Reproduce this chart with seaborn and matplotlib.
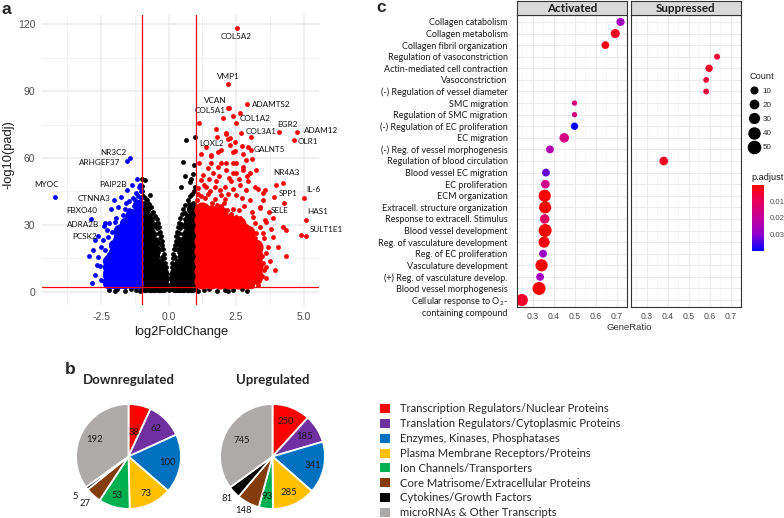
import matplotlib
matplotlib.use("Agg")
import matplotlib.pyplot as plt
import matplotlib.transforms as mtransforms
import numpy as np
import pandas as pd
import seaborn as sns
from matplotlib.colors import LinearSegmentedColormap, Normalize
from matplotlib.cm import ScalarMappable
from matplotlib.lines import Line2D
from matplotlib.patches import Patch

sns.set_style("white")
plt.rcParams["font.family"] = ["Liberation Sans", "DejaVu Sans"]

W, H = 784, 518

##############################
# a. Volcano plot data (log2FoldChange, -log10(padj))
##############################
# dense cores: {log2FC: [-log10 padj, ...]}
ns_core = {
    -0.86: [2, 5.5, 9, 12.5, 16, 19.5, 23, 26.5, 30, 33.5, 37],
    -0.70: [2, 5.5, 9, 12.5, 16, 19.5, 23, 26.5, 30],
    -0.53: [2, 5.5, 9, 12.5, 16, 19.5, 22.5],
    -0.37: [2, 5.5, 9, 12.5],
    -0.22: [2, 5.5, 8.5],
    0.22: [2, 5.5, 8.5],
    0.37: [2, 5.5, 9, 12.5],
    0.53: [2, 5.5, 9, 12.5, 16, 19.5, 22.5],
    0.70: [2, 5.5, 9, 12.5, 16, 19.5, 23, 26.5, 30],
    0.86: [2, 5.5, 9, 12.5, 16, 19.5, 23, 26.5, 30, 33.5, 37],
}
ns_pts = [
    (-0.04, 3), (-0.06, 6), (-0.09, 8), (-0.11, 11), (-0.13, 13), (-0.16, 15), (-0.18, 17),
    (-0.2, 19), (-0.23, 21), (-0.26, 23), (-0.28, 25), (-0.31, 27), (-0.34, 29), (-0.38, 31),
    (-0.43, 32.5), (-0.5, 34), (-0.57, 36), (-0.64, 38), (-0.72, 39.5), (-0.8, 41), (-0.88, 42),
    (-0.95, 43), (-0.98, 45), (-0.12, 4), (-0.15, 8), (-0.2, 5), (-0.17, 11), (-0.22, 12),
    (-0.25, 15.5), (-0.28, 19), (-0.3, 21.5), (-0.33, 24), (-0.37, 26.5), (-0.42, 28.5),
    (-0.47, 30.5), (-0.52, 26), (-0.58, 29.5), (-0.6, 32.5), (-0.68, 34), (-0.78, 37), (-0.9, 40),
    (-0.44, 22), (-0.4, 18), (-0.3, 14), (-0.28, 9), (-0.45, 15), (-0.75, 39.5), (-0.62, 35.5),
    (-0.98, 50.5), (-0.97, 47.5), (-0.86, 50.2), (-0.7, 43.5),
    (0.04, 3), (0.06, 6), (0.09, 8), (0.11, 11), (0.13, 13), (0.16, 15), (0.18, 17),
    (0.2, 19), (0.23, 21), (0.26, 23), (0.28, 25), (0.31, 27), (0.34, 29), (0.37, 31),
    (0.42, 33), (0.48, 35), (0.55, 37), (0.62, 39), (0.7, 41), (0.78, 43), (0.86, 44),
    (0.93, 45), (0.98, 47), (0.12, 4), (0.15, 8), (0.2, 5), (0.17, 11), (0.22, 12),
    (0.25, 15.5), (0.28, 19), (0.3, 21.5), (0.33, 24), (0.37, 26.5), (0.42, 28.5),
    (0.47, 30.5), (0.52, 26), (0.58, 29.5), (0.6, 32.5), (0.68, 34), (0.78, 37), (0.9, 40),
    (0.44, 22), (0.4, 18), (0.3, 14), (0.28, 9), (0.45, 15), (0.75, 39.5), (0.62, 35.5),
    (0.45, 47), (0.6, 52), (0.78, 49.4), (0.83, 50.5), (0.9, 53), (0.53, 58.4), (0.93, 56.9),
    (0.65, 68), (0.96, 69.3),
    (0, 1), (-0.03, 1.5), (0.03, 1.5),
    (-2.2, 0.8), (-1.9, 1.2), (-1.6, 0.6), (-1.4, 1.1), (-1.2, 0.7), (-1.05, 0.5), (-2.0, 0.4),
    (1.1, 0.6), (1.3, 1.0), (1.5, 1.2), (1.8, 0.6), (2.1, 1.0), (2.2, 0.3), (2.4, 0.7),
    (2.7, 1.1), (2.9, 0.5),
]

down_core = {
    -1.15: [4, 7.5, 11, 14.5, 18, 21.5, 25, 28.5, 32, 35.5, 39],
    -1.38: [4, 7.5, 11, 14.5, 18, 21.5, 25, 28.5, 32, 35],
    -1.60: [4, 7.5, 11, 14.5, 18, 21.5, 25, 28.5, 31],
    -1.82: [4, 7.5, 11, 14.5, 18, 21.5, 25, 27.5],
    -2.04: [4, 7.5, 11, 14.5, 18, 21],
    -2.24: [4, 7.5, 11, 14],
}
down_pts = [
    (-1.03, 42), (-1.04, 45), (-1.06, 48), (-1.12, 43), (-1.25, 41), (-1.3, 38.5),
    (-1.45, 36.5), (-1.55, 33.5), (-1.7, 31), (-1.8, 29.5), (-1.95, 27), (-2.0, 23.5),
    (-2.15, 21), (-2.2, 17), (-2.3, 15.5), (-2.35, 9), (-2.38, 5), (-2.32, 3), (-2.12, 2.8),
    (-1.7, 2.6), (-1.3, 2.7), (-1.36, 47.9), (-1.54, 45.7), (-1.75, 42.7), (-2.15, 37),
    (-1.88, 38.2), (-1.69, 34.5), (-2.37, 30.7), (-2.19, 30.7), (-2.0, 31.5), (-2.74, 23.3),
    (-2.8, 18.8), (-2.56, 11.4), (-2.74, 7.6), (-2.37, 18.8), (-2.25, 24.8), (-2.43, 23.3),
    (-2.49, 5.4), (-2.62, 15.8), (-1.59, 39.7), (-1.32, 42), (-1.2, 44.2), (-2.1, 27),
    (-2.5, 20), (-2.65, 12), (-2.95, 16), (-2.85, 4), (-1.6, 37), (-1.95, 33), (-2.3, 27.5),
    (-1.45, 40.5), (-1.1, 47),
]

up_core = {
    1.25: [5, 9.5, 14, 18.5, 23, 27.5, 32, 36.5],
    1.58: [5, 9.5, 14, 18.5, 23, 27.5, 32, 35.5],
    1.91: [5, 9.5, 14, 18.5, 23, 27.5, 32, 35],
    2.24: [5, 9.5, 14, 18.5, 23, 27.5, 31.5],
    2.57: [5, 9.5, 14, 18.5, 23, 27.5, 30.5],
    2.90: [5, 9.5, 14, 18.5, 23, 26.5],
    3.20: [7, 11.5, 16, 20],
}
up_pts = [
    (1.05, 41), (1.08, 44), (1.1, 46.5), (1.2, 43), (1.35, 42), (1.45, 44), (1.6, 40),
    (1.7, 41.5), (1.8, 39), (1.95, 38.5), (2.05, 40), (2.15, 36.5), (2.3, 35), (2.4, 37),
    (2.5, 33.5), (2.65, 33), (2.75, 30), (2.85, 29.5), (3.0, 28), (3.1, 26), (3.2, 24),
    (3.3, 22), (3.4, 19), (3.45, 16), (3.5, 13), (3.55, 10), (3.45, 7), (3.35, 5), (3.3, 3),
    (3.1, 2.8), (3.05, 5), (3.15, 9), (3.3, 12), (3.38, 15), (3.25, 18), (3.1, 20),
    (3.05, 24), (2.95, 26), (2.75, 3), (3.4, 10.5),
    (1.11, 57.6), (1.46, 55.4), (1.64, 53.1), (1.83, 56.1), (1.95, 57.6), (2.14, 54.6),
    (2.38, 57.6), (2.5, 53.1), (2.75, 56.1), (3.0, 53.1), (3.25, 54.6), (1.21, 50.2),
    (1.4, 47.2), (1.77, 49.5), (2.07, 47.2), (2.32, 49.5), (2.63, 47.9), (2.88, 45.7),
    (3.19, 47.2), (3.49, 44.2), (1.95, 43.4), (2.5, 43.4), (3.0, 41.2), (3.37, 38.2),
    (3.56, 32.2), (3.49, 26.3), (3.68, 20.3), (3.62, 11.3), (3.25, 6.9), (2.88, 3.9),
    (1.11, 75.5), (1.74, 73), (2.14, 71), (2.19, 68.5), (2.46, 67.3), (1.58, 61.3),
    (1.83, 62.8), (2.38, 62.8), (2.5, 57.9), (2.85, 59), (3.1, 59.4), (1.56, 57.6),
    (2.14, 57.6), (2.75, 54.6), (2.38, 53.1), (1.27, 52.4), (3.58, 45.7), (3.99, 47.9),
    (3.9, 42.4), (3.49, 41.2), (3.86, 33), (4.36, 27.8), (3.86, 24.8),
    (4.36, 16.1), (3.93, 9.9), (4.91, 25.6), (3.62, 31.5), (3.37, 37.5), (3.12, 33.7),
    (3.25, 26.3), (3.62, 17.3), (3.25, 12.9), (3.37, 6.9),
    (2.38, 78.8), (2.5, 75.8), (2.14, 70.8), (2.26, 69), (2.26, 65.8), (1.95, 63.6),
    (2.47, 63.3), (2.73, 65.4), (2.94, 64.8), (1.58, 60.9), (2.75, 61.8), (3.04, 69.3),
    (2.25, 82.6), (1.3, 48), (1.55, 45), (1.7, 47), (1.9, 45.5), (2.2, 44), (2.4, 46),
    (2.7, 42), (2.8, 38.5), (3.1, 36), (3.2, 31), (3.4, 29), (3.55, 24), (2.6, 36.5),
    (2.1, 41.5), (1.5, 50.5), (1.85, 52), (2.25, 51), (2.6, 50.5), (2.95, 49.5), (3.3, 46),
    (3.7, 36), (3.8, 28), (3.75, 14), (3.6, 6), (4.05, 20), (1.2, 62), (1.4, 65), (2.9, 52),
]

gene_names = ["COL5A2", "VMP1", "ADAMTS2", "VCAN", "COL5A1", "COL1A2", "COL3A1", "EGR2",
              "ADAM12", "OLR1", "LOXL2", "GALNT5", "NR4A3", "IL-6", "SPP1", "HAS1", "SELE",
              "SULT1E1", "NR3C2", "ARHGEF37", "MYOC", "PAIP2B", "CTNNA3", "FBXO40", "ADRA2B",
              "PCSK2"]
gene_lfc = [2.52, 2.19, 2.89, 2.2, 2.01, 2.63, 2.69, 4.09, 4.75, 4.63, 1.79, 3.06, 4.25,
            5.0, 4.26, 5.1, 4.23, 5.1, -1.44, -1.54, -4.22, -1.17, -2.04, -2.89, -2.41, -2.62]
gene_logp = [118.2, 93, 84, 82.4, 77.8, 80, 71.4, 71.8, 71.8, 68, 69.2, 63.6, 49, 42, 40,
             32, 29.2, 25, 59.9, 58.5, 42.7, 50.5, 41.2, 32.8, 29.6, 25.2]

##############################
# b. Pie chart data
##############################
pie_labels = ["Transcription Regulators/Nuclear Proteins",
              "Translation Regulators/Cytoplasmic Proteins",
              "Enzymes, Kinases, Phosphatases",
              "Plasma Membrane Receptors/Proteins",
              "Ion Channels/Transporters",
              "Core Matrisome/Extracellular Proteins",
              "Cytokines/Growth Factors",
              "microRNAs & Other Transcripts"]
pie_colors = ["#FF0000", "#7030A0", "#0070C0", "#FFC000", "#00B050", "#843C0C", "#000000", "#AEAAAA"]
down_counts = [38, 62, 100, 73, 53, 27, 5, 192]
up_counts = [250, 185, 341, 285, 93, 148, 81, 745]

##############################
# c. GO dot plot data
##############################
go_terms = ["Collagen catabolism", "Collagen metabolism", "Collagen fibril organization",
            "Regulation of vasoconstriction", "Actin-mediated cell contraction",
            "Vasoconstriction", "(-) Regulation of vessel diameter", "SMC migration",
            "Regulation of SMC migration", "(-) Regulation of EC proliferation", "EC migration",
            "(-) Reg. of vessel morphogenesis", "Regulation of blood circulation",
            "Blood vessel EC migration", "EC proliferation", "ECM organization",
            "Extracell. structure organization", "Response to extracell. Stimulus",
            "Blood vessel development", "Reg. of vasculature development",
            "Reg. of EC proliferation", "Vasculature development",
            "(+) Reg. of vasculature develop.", "Blood vessel morphogenesis",
            "Cellular response to O$\\mathregular{_2}$-\ncontaining compound"]
go_dir = (["Activated"] * 3 + ["Suppressed"] * 4 + ["Activated"] * 5 + ["Suppressed"]
          + ["Activated"] * 12)
go_ratio = [0.719, 0.694, 0.647, 0.636, 0.598, 0.584, 0.584, 0.5, 0.5, 0.5, 0.451, 0.383,
            0.382, 0.364, 0.361, 0.358, 0.36, 0.358, 0.36, 0.355, 0.35, 0.343, 0.336, 0.331,
            0.249]
go_count = [19, 25, 16, 7, 14, 6, 6, 4, 4, 14, 28, 17, 22, 17, 22, 50, 50, 28, 58, 41, 17,
            50, 17, 58, 50]
go_padj = [0.027, 0.004, 0.002, 0.007, 0.004, 0.006, 0.006, 0.015, 0.015, 0.0395, 0.016,
           0.024, 0.004, 0.033, 0.017, 0.0005, 0.0005, 0.011, 0.0003, 0.002, 0.028, 0.0008,
           0.027, 0.0008, 0.005]


def box(l, t, r, b):
    return [l / W, 1 - b / H, (r - l) / W, (b - t) / H]


fig = plt.figure(figsize=(W / 100, H / 100), dpi=100)

##############################
# a. Volcano
##############################
frames = []
for grp, core, pts in [("ns", ns_core, ns_pts), ("down", down_core, down_pts), ("up", up_core, up_pts)]:
    cx = [x for x, col in core.items() for _ in col]
    cy = [y for col in core.values() for y in col]
    frames.append(pd.DataFrame({"lfc": cx, "logp": cy, "group": grp, "dense": True}))
    frames.append(pd.DataFrame({"lfc": [p[0] for p in pts], "logp": [p[1] for p in pts],
                                "group": grp, "dense": False}))
genes = pd.DataFrame({"gene": gene_names, "lfc": gene_lfc, "logp": gene_logp})
genes["group"] = np.where(genes["lfc"] > 0, "up", "down")
genes["dense"] = False
frames.append(genes)
volcano = pd.concat(frames, ignore_index=True)

grp_color = {"ns": "#000000", "down": "#0000FF", "up": "#FF0000"}
core_size = {"ns": 66, "down": 66, "up": 135}

ax_a = fig.add_axes(box(42, 15, 319, 305))
for grp in ["ns", "down", "up"]:
    for dense in [True, False]:
        sub = volcano[(volcano.group == grp) & (volcano.dense == dense)]
        sns.scatterplot(data=sub, x="lfc", y="logp", color=grp_color[grp],
                        s=core_size[grp] if dense else 12, linewidth=0, legend=False, ax=ax_a)

ax_a.axvline(-1, color="#FF0000", lw=0.9)
ax_a.axvline(1, color="#FF0000", lw=0.9)
ax_a.axhline(2, color="#FF0000", lw=0.9)
ax_a.set_xlim(-4.69, 5.57)
ax_a.set_ylim(-5.9, 124.1)
ax_a.set_xticks([-2.5, 0, 2.5, 5])
ax_a.set_xticklabels(["-2.5", "0.0", "2.5", "5.0"])
ax_a.set_xticks([-3.75, -1.25, 1.25, 3.75], minor=True)
ax_a.set_yticks([0, 30, 60, 90, 120])
ax_a.set_yticks([15, 45, 75, 105], minor=True)
ax_a.grid(True, which="major", color="#EBEBEB", lw=1.1)
ax_a.grid(True, which="minor", color="#F2F2F2", lw=0.7)
ax_a.set_axisbelow(True)
for sp in ax_a.spines.values():
    sp.set_visible(False)
ax_a.tick_params(which="both", length=0, labelsize=7.5, labelcolor="#4D4D4D", pad=4.8)
ax_a.set_xlabel("")
ax_a.set_ylabel("")
fig.text(181 / W, 1 - 332 / H, "log2FoldChange", ha="center", va="center", fontsize=9.3,
         color="#1A1A1A")
fig.text(8 / W, 1 - 155 / H, "-log10(padj)", ha="center", va="center", fontsize=9.3,
         rotation=90, color="#1A1A1A")

# gene label placement (text centres)
label_pos = {
    "COL5A2": (2.51, 114.6), "VMP1": (2.23, 96.7), "ADAMTS2": (3.8, 84), "VCAN": (1.74, 85.7),
    "COL5A1": (1.54, 81.2), "COL1A2": (3.2, 77.8), "COL3A1": (3.44, 72.1), "EGR2": (4.42, 75.2),
    "ADAM12": (5.63, 72.3), "OLR1": (5.16, 67.3), "LOXL2": (1.59, 66.5), "GALNT5": (3.74, 63.6),
    "NR4A3": (4.38, 53.3), "IL-6": (5.35, 45.7), "SPP1": (4.43, 43.9), "HAS1": (5.52, 35.8),
    "SELE": (4.1, 36.4), "SULT1E1": (5.86, 28), "NR3C2": (-2.05, 62.4),
    "ARHGEF37": (-2.56, 58.1), "MYOC": (-4.53, 48.2), "PAIP2B": (-2.06, 48.2),
    "CTNNA3": (-2.77, 41.7), "FBXO40": (-3.23, 36.3), "ADRA2B": (-3.17, 30),
    "PCSK2": (-3.11, 24.8),
}
for name in gene_names:
    tx, ty = label_pos[name]
    ax_a.text(tx, ty, name, ha="center", va="center", fontsize=5.9, family="Lato",
              color="#111111", clip_on=False)

##############################
# b. Pies
##############################
down_r = [0.47, 0.75, 0.75, 0.78, 0.78, 1.22, 1.27, 0.72]
up_r = [0.72, 0.73, 0.78, 0.76, 0.76, 1.17, 1.17, 0.66]
for counts, (cx, cy), radii, title in [(down_counts, (128.5, 456.5), down_r, "Downregulated"),
                                       (up_counts, (272.5, 456.5), up_r, "Upregulated")]:
    r = 53.5
    ax = fig.add_axes(box(cx - r, cy - r, cx + r, cy + r))
    wedges, _ = ax.pie(counts, colors=pie_colors, startangle=90, counterclock=False,
                       wedgeprops=dict(edgecolor="white", linewidth=1.3))
    ax.set_xlim(-1.02, 1.02)
    ax.set_ylim(-1.02, 1.02)
    for w, n, rr in zip(wedges, counts, radii):
        ang = np.deg2rad((w.theta1 + w.theta2) / 2)
        ax.text(rr * np.cos(ang), rr * np.sin(ang), str(n), ha="center", va="center",
                fontsize=6.8, family="Lato", color="#1A1A1A", clip_on=False)
    fig.text(cx / W, 1 - 380 / H, title, ha="center", va="center", fontsize=9.5,
             family="Lato", fontweight="bold")

handles = [Patch(facecolor=c, edgecolor="none") for c in pie_colors]
fig.legend(handles, pie_labels, loc="upper left", bbox_to_anchor=(380 / W, 1 - 403.5 / H),
           frameon=False, borderaxespad=0, borderpad=0, handlelength=0.85, handleheight=0.85,
           handletextpad=0.95, labelspacing=0.34, prop={"family": "Lato", "size": 8.1})

##############################
# c. GO dot plot
##############################
go = pd.DataFrame({"term": go_terms, "direction": go_dir, "GeneRatio": go_ratio,
                   "Count": go_count, "p.adjust": go_padj})
go["row"] = np.arange(len(go))

cmap = LinearSegmentedColormap.from_list(
    "padj", ["#FF0000", "#E6005C", "#C4009C", "#9000CF", "#0000FF"])
norm = Normalize(0.0001, 0.0402)
size_range = (14.6, 87.6)
size_norm = (4, 58)

for facet, l in [("Activated", 517), ("Suppressed", 631)]:
    r = l + 110
    ax = fig.add_axes(box(l, 15, r, 307))
    sub = go[go.direction == facet]
    sns.scatterplot(data=sub, x="GeneRatio", y="row", hue="p.adjust", palette=cmap,
                    hue_norm=norm, size="Count", sizes=size_range, size_norm=size_norm,
                    linewidth=0, legend=False, ax=ax)
    ax.set_xlim(0.226, 0.744)
    ax.set_ylim(24.6, -0.6)
    ax.set_xticks([0.3, 0.4, 0.5, 0.6, 0.7])
    ax.set_xticks([0.25, 0.35, 0.45, 0.55, 0.65, 0.75], minor=True)
    ax.set_yticks(np.arange(len(go_terms)))
    ax.grid(True, which="major", color="#EBEBEB", lw=0.8)
    ax.grid(True, which="minor", axis="x", color="#F3F3F3", lw=0.5)
    ax.set_axisbelow(True)
    for sp in ax.spines.values():
        sp.set_visible(True)
        sp.set_color("#333333")
        sp.set_linewidth(0.8)
    ax.tick_params(axis="x", which="major", labelsize=6.3, labelcolor="#4D4D4D",
                   color="#333333", length=2, width=0.6, pad=1.5)
    ax.tick_params(axis="x", which="minor", length=0)
    ax.set_xlabel("")
    ax.set_ylabel("")
    if facet == "Activated":
        ax.set_yticklabels(go_terms, fontsize=6.5, family="Lato", color="#1A1A1A")
        ax.tick_params(axis="y", color="#333333", length=2, width=0.6, pad=4.8)
        last = ax.get_yticklabels()[-1]
        last.set_transform(last.get_transform()
                           + mtransforms.ScaledTranslation(0, -0.045, fig.dpi_scale_trans))
    else:
        ax.tick_params(axis="y", length=0, labelleft=False)

    strip = fig.add_axes(box(l, 1, r, 15))
    strip.set_facecolor("#D9D9D9")
    strip.set_xticks([])
    strip.set_yticks([])
    for sp in strip.spines.values():
        sp.set_color("#333333")
        sp.set_linewidth(0.8)
    strip.text(0.5, 0.5, facet, ha="center", va="center", fontsize=8.4, family="Lato",
               fontweight="bold", color="#1A1A1A", transform=strip.transAxes)

fig.text(629 / W, 1 - 327 / H, "GeneRatio", ha="center", va="center", fontsize=6.8,
         color="#333333")

# Count size legend
size_levels = [10, 20, 30, 40, 50]
size_handles = [Line2D([], [], ls="", marker="o", color="black",
                       markersize=np.sqrt(size_range[0] + (c - size_norm[0]) / (size_norm[1] - size_norm[0])
                                          * (size_range[1] - size_range[0])))
                for c in size_levels]
fig.legend(size_handles, [str(c) for c in size_levels], title="Count", loc="upper left",
           bbox_to_anchor=(749 / W, 1 - 72 / H), frameon=False, borderaxespad=0, borderpad=0,
           handlelength=1.2, handletextpad=0.5, labelspacing=0.8, alignment="left",
           prop={"size": 5.8}, title_fontproperties={"size": 6.6})

# p.adjust colour bar
fig.text(751 / W, 1 - 177 / H, "p.adjust", ha="left", va="center", fontsize=6.6,
         color="#1A1A1A")
cax = fig.add_axes(box(752, 185, 764, 251))
cb = fig.colorbar(ScalarMappable(norm=norm, cmap=cmap), cax=cax, ticks=[0.01, 0.02, 0.03])
cb.outline.set_visible(False)
cax.invert_yaxis()
cax.set_yticklabels(["0.01", "0.02", "0.03"])
cax.tick_params(direction="in", color="white", length=3, width=0.7, labelsize=5.6,
                labelcolor="#4D4D4D", pad=4)

# panel letters
fig.text(6 / W, 1 - 10 / H, "a", fontsize=12.5, fontweight="bold", ha="center", va="center")
fig.text(70 / W, 1 - 369 / H, "b", fontsize=12.5, fontweight="bold", ha="center", va="center")
fig.text(381 / W, 1 - 7 / H, "c", fontsize=12.5, fontweight="bold", ha="center", va="center")

fig.savefig("out.png", dpi=100, facecolor="white")
